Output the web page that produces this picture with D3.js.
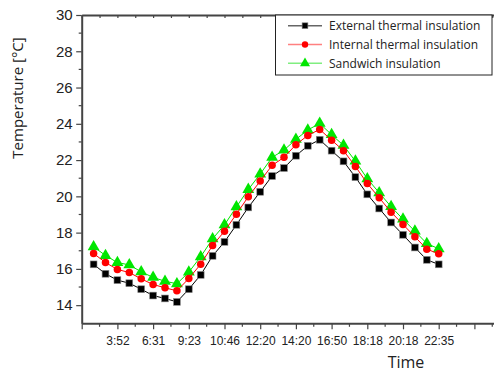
<!DOCTYPE html>
<html>
<head>
    <title>temperature chart</title>
    <script type="text/javascript" src="https://cdn.jsdelivr.net/npm/d3@7"></script>
    <style type="text/css">
        body { margin: 0; background-color: #fff; }
        svg { display: block; font-family: "Open Sans", sans-serif; }
        .axis path, .axis line { stroke: #444; }
        .axis path { stroke-width: 2px; }
        .axis line { stroke-width: 1.2px; }
    </style>
</head>
<body>
    <svg id="chart" width="494" height="374"></svg>
</body>
<script type="text/javascript">
    // measurement index (1..30) and time labels every third point
    let tickIdx = [3, 6, 9, 12, 15, 18, 21, 24, 27, 30];
    let tickLabels = ["3:52", "6:31", "9:23", "10:46", "12:20", "14:20", "16:50", "18:18", "20:18", "22:35"];

    let external = [16.25, 15.73, 15.38, 15.21, 14.88, 14.53, 14.37, 14.18, 14.88, 15.67,
                    16.72, 17.49, 18.43, 19.39, 20.25, 21.12, 21.56, 22.24, 22.79, 23.12,
                    22.52, 21.93, 21.06, 20.11, 19.33, 18.56, 17.88, 17.18, 16.50, 16.25];
    let internal = [16.85, 16.35, 15.97, 15.80, 15.45, 15.14, 14.96, 14.79, 15.47, 16.26,
                    17.29, 18.08, 19.02, 19.98, 20.84, 21.71, 22.15, 22.85, 23.36, 23.69,
                    23.10, 22.52, 21.65, 20.71, 19.92, 19.13, 18.45, 17.77, 17.09, 16.83];
    let sandwich = [17.22, 16.74, 16.35, 16.22, 15.84, 15.53, 15.32, 15.18, 15.82, 16.67,
                    17.66, 18.43, 19.42, 20.38, 21.23, 22.15, 22.55, 23.14, 23.66, 24.02,
                    23.40, 22.81, 21.94, 20.97, 20.20, 19.43, 18.74, 18.08, 17.40, 17.11];

    let seriesNames = ["External thermal insulation", "Internal thermal insulation", "Sandwich insulation"];

    const plotLeft = 81.7, plotTop = 15, plotBottom = 323.3;
    let svg = d3.select("#chart");
    let x = d3.scaleLinear().domain([0, 35]).range([plotLeft, plotLeft + 35 * 11.9]);
    let y = d3.scaleLinear().domain([13, 30]).range([plotBottom, plotTop]);

    let majorX = d3.range(0, 34, 3);
    let minorX = d3.range(1.5, 35, 3);

    // bottom axis
    let xa = svg.append("g").attr("class", "axis").attr("transform", "translate(0," + plotBottom + ")");
    xa.call(d3.axisBottom(x).tickValues(majorX).tickSize(6).tickSizeOuter(0)
        .tickFormat(function(d) { let k = tickIdx.indexOf(d); return k >= 0 ? tickLabels[k] : ""; }));
    xa.selectAll("text").attr("font-size", "12px").attr("fill", "#222").attr("dy", "1.1em");
    xa.append("g").selectAll("line").data(minorX).join("line")
        .attr("x1", d => x(d)).attr("x2", d => x(d)).attr("y1", 0).attr("y2", 3.5);

    // top axis, ticks inward
    let ta = svg.append("g").attr("class", "axis").attr("transform", "translate(0," + plotTop + ")");
    ta.call(d3.axisTop(x).tickValues(majorX.concat(minorX)).tickSize(-3).tickSizeOuter(0).tickFormat(""));

    // left axis
    let ya = svg.append("g").attr("class", "axis").attr("transform", "translate(" + plotLeft + ",0)");
    ya.call(d3.axisLeft(y).tickValues(d3.range(14, 31, 2)).tickSize(5.5).tickSizeOuter(0));
    ya.selectAll("text").attr("font-size", "15px").attr("fill", "#222").attr("x", -9);
    ya.append("g").selectAll("line").data(d3.range(15, 30, 2)).join("line")
        .attr("x1", 0).attr("x2", -3).attr("y1", d => y(d)).attr("y2", d => y(d));

    // axis titles
    svg.append("text").attr("x", 406).attr("y", 368).attr("text-anchor", "middle")
        .attr("font-size", "16px").attr("fill", "#222").text("Time");
    svg.append("text").attr("transform", "translate(23,98) rotate(-90)").attr("text-anchor", "middle")
        .attr("font-size", "15px").attr("fill", "#222").text("Temperature [°C]");

    let lineGen = d3.line().x((d, i) => x(i + 1)).y(d => y(d));

    function drawMarker(g, type, color, size) {
        if (type === "square") {
            g.append("rect").attr("x", -size / 2).attr("y", -size / 2).attr("width", size).attr("height", size)
                .attr("fill", color).attr("stroke", "#888").attr("stroke-width", 0.6);
        } else if (type === "circle") {
            g.append("circle").attr("r", size / 2).attr("fill", color);
        } else {
            g.append("path").attr("d", d3.symbol(d3.symbolTriangle, size * size * 0.75)()).attr("fill", color);
        }
    }

    let series = [
        { name: seriesNames[2], values: sandwich, color: "#00e600", marker: "triangle", size: 9 },
        { name: seriesNames[1], values: internal, color: "#ff0000", marker: "circle", size: 7.5 },
        { name: seriesNames[0], values: external, color: "#000000", marker: "square", size: 6.8 }
    ];

    series.forEach(function(s) {
        svg.append("path").attr("d", lineGen(s.values)).attr("fill", "none")
            .attr("stroke", s.color).attr("stroke-width", 1);
        s.values.forEach(function(v, i) {
            let g = svg.append("g").attr("transform", "translate(" + x(i + 1) + "," + y(v) + ")");
            drawMarker(g, s.marker, s.color, s.size);
        });
    });

    // legend
    let lg = svg.append("g");
    lg.append("rect").attr("x", 275.5).attr("y", 15).attr("width", 216.5).attr("height", 60)
        .attr("fill", "#fff").attr("stroke", "#222").attr("stroke-width", 1);
    let legendOrder = [series[2], series[1], series[0]];
    let legendLine = { "#000000": "#666", "#ff0000": "#ff8080", "#00e600": "#80ee80" };
    legendOrder.forEach(function(s, k) {
        let ly = 25.7 + k * 18.8;
        lg.append("line").attr("x1", 288).attr("x2", 322).attr("y1", ly).attr("y2", ly)
            .attr("stroke", legendLine[s.color]).attr("stroke-width", 1.5);
        let g = lg.append("g").attr("transform", "translate(305," + ly + ")");
        drawMarker(g, s.marker, s.color, s.size * 0.85);
        lg.append("text").attr("x", 329).attr("y", ly).attr("dy", "0.35em")
            .attr("font-size", "12px").attr("fill", "#222").text(s.name);
    });
</script>
</html>
